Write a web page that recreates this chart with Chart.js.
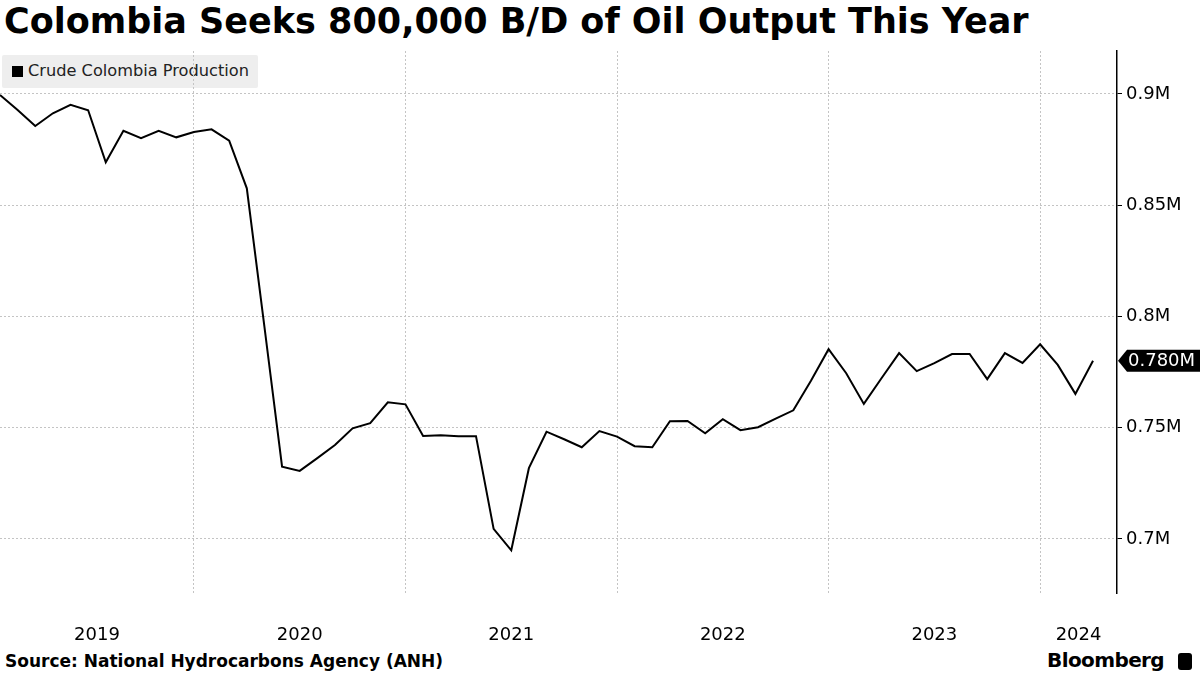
<!DOCTYPE html>
<html>
<head>
<meta charset="utf-8">
<script src="https://cdn.jsdelivr.net/npm/chart.js@4.4.1/dist/chart.umd.min.js"></script>
<style>
  html, body { margin: 0; padding: 0; background: #fff; }
  #wrap { position: relative; width: 1200px; height: 675px; overflow: hidden; font-family: "DejaVu Sans", sans-serif; }
  #title { position: absolute; left: 4px; top: 1px; font-size: 35px; font-weight: bold; color: #000; white-space: nowrap; }
  #legend { position: absolute; left: 2px; top: 55px; width: 256px; height: 33px; background: #eeeeee; border-radius: 2px; z-index: 0; }
  #legend span.sw { position: absolute; left: 10px; top: 11px; width: 11px; height: 11px; background: #000; }
  #legend span.tx { position: absolute; left: 26px; top: 6px; font-size: 16.2px; color: #222; white-space: nowrap; }
  #chart { position: absolute; left: 0; top: 0; z-index: 1; }
  #source { position: absolute; left: 5px; top: 651px; font-size: 17px; font-weight: bold; color: #000; white-space: nowrap; }
  #brand { position: absolute; left: 1047px; top: 648px; font-size: 20px; font-weight: bold; color: #000; white-space: nowrap; letter-spacing: -0.6px; }
  #brand i { position: absolute; left: 131px; top: 5px; width: 14px; height: 17px; background: #000; border-radius: 3px; }
</style>
</head>
<body>
<div id="wrap">
  <div id="title">Colombia Seeks 800,000 B/D of Oil Output This Year</div>
  <div id="legend"><span class="sw"></span><span class="tx">Crude Colombia Production</span></div>
  <canvas id="chart" width="1200" height="675"></canvas>
  <div id="source">Source: National Hydrocarbons Agency (ANH)</div>
  <div id="brand">Bloomberg<i></i></div>
</div>
<script>
// monthly series, first point Feb 2019, last point Apr 2024 (million b/d)
const startYear = 2019;
const startMonth = 2;
const production = [
  0.8995, 0.8928, 0.8856, 0.8913, 0.8951, 0.8927, 0.8693, 0.8834, 0.8801, 0.8834, 0.8805,
  0.8829, 0.8841, 0.8790, 0.8576, 0.7953, 0.7325, 0.7306, 0.7363, 0.7422, 0.7497, 0.7520, 0.7614,
  0.7605, 0.7463, 0.7466, 0.7462, 0.7462, 0.7045, 0.6949, 0.7318, 0.7482, 0.7448, 0.7412, 0.7485,
  0.7460, 0.7417, 0.7412, 0.7529, 0.7530, 0.7475, 0.7538, 0.7489, 0.7502, 0.7541, 0.7578, 0.7711,
  0.7853, 0.7745, 0.7607, 0.7722, 0.7835, 0.7754, 0.7790, 0.7831, 0.7831, 0.7718, 0.7835, 0.7791,
  0.7875, 0.7782, 0.7652, 0.7801
];
const yearLabels = ["2019", "2020", "2021", "2022", "2023", "2024"];
const yTicks = [0.7, 0.75, 0.8, 0.85, 0.9];

const xMin = 0;
const xMax = 63.36;
const yMin = 0.6757;
const yMax = 0.9193;

// index of each January relative to the first point
const yearStarts = yearLabels.map((y) => (Number(y) - startYear) * 12 - (startMonth - 1));
// label sits in the middle of the visible part of each year
const labelPos = yearStarts.map((s) => (Math.max(s, xMin) + Math.min(s + 12, xMax)) / 2);

const points = production.map((v, i) => ({ x: i, y: v }));
const last = production[production.length - 1];

const lastValueTag = {
  id: "lastValueTag",
  afterDraw(chart) {
    const { ctx, scales } = chart;
    const y = scales.y.getPixelForValue(last);
    const x0 = chart.chartArea.right + 1;
    const h = 22;
    ctx.save();
    ctx.fillStyle = "#000";
    ctx.beginPath();
    ctx.moveTo(x0, y);
    ctx.lineTo(x0 + 9, y - h / 2);
    ctx.lineTo(1200, y - h / 2);
    ctx.lineTo(1200, y + h / 2);
    ctx.lineTo(x0 + 9, y + h / 2);
    ctx.closePath();
    ctx.fill();
    ctx.fillStyle = "#fff";
    ctx.font = '18px "DejaVu Sans", sans-serif';
    ctx.textBaseline = "middle";
    ctx.fillText(last.toFixed(3) + "M", x0 + 10, y + 1);
    ctx.restore();
  },
};

new Chart(document.getElementById("chart"), {
  type: "line",
  data: {
    datasets: [
      {
        label: "Crude Colombia Production",
        data: points,
        borderColor: "#000",
        borderWidth: 2,
        pointRadius: 0,
        tension: 0,
        fill: false,
      },
    ],
  },
  options: {
    responsive: false,
    animation: false,
    layout: { padding: { top: 51, left: 0, right: 0, bottom: 0 } },
    plugins: { legend: { display: false }, tooltip: { enabled: false } },
    scales: {
      x: {
        type: "linear",
        position: "bottom",
        min: xMin,
        max: xMax,
        grid: { display: false, drawTicks: false },
        border: { display: false },
        afterBuildTicks: (s) => { s.ticks = labelPos.map((v) => ({ value: v })); },
        afterFit: (s) => { s.height = 82; },
        ticks: {
          autoSkip: false,
          maxRotation: 0,
          padding: 32,
          color: "#000",
          font: { family: "DejaVu Sans", size: 18 },
          callback: (v, i) => yearLabels[i],
        },
      },
      x2: {
        type: "linear",
        position: "bottom",
        min: xMin,
        max: xMax,
        grid: { color: "#c4c4c4", lineWidth: 1, drawTicks: false },
        border: { display: false, dash: [2, 2] },
        afterBuildTicks: (s) => { s.ticks = yearStarts.filter((v) => v > xMin && v < xMax).map((v) => ({ value: v })); },
        afterFit: (s) => { s.height = 0; },
        ticks: { display: false },
      },
      y: {
        position: "right",
        min: yMin,
        max: yMax,
        grid: { color: "#c4c4c4", lineWidth: 1, tickLength: 5, tickColor: "#000", tickBorderDash: [] },
        border: { display: true, color: "#000", width: 1.5, dash: [2, 2] },
        afterBuildTicks: (s) => { s.ticks = yTicks.map((v) => ({ value: v })); },
        afterFit: (s) => { s.width = 83; },
        ticks: {
          padding: 4,
          color: "#000",
          font: { family: "DejaVu Sans", size: 18 },
          callback: (v) => v + "M",
        },
      },
    },
  },
  plugins: [lastValueTag],
});
</script>
</body>
</html>
